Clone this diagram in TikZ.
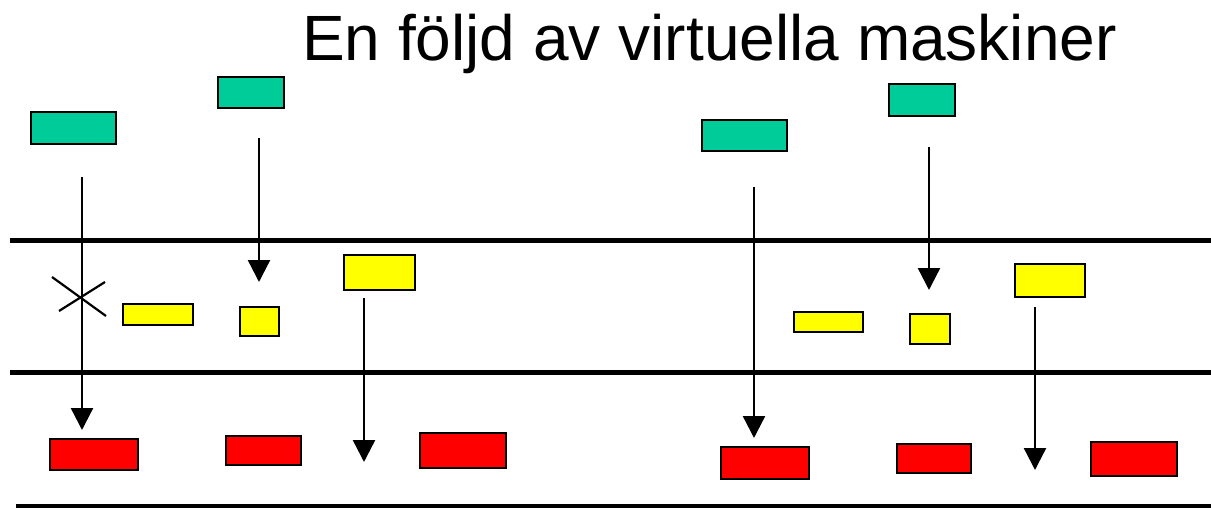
\documentclass[tikz,border=0pt]{standalone}
\usepackage{fontspec}
\setmainfont{Liberation Sans}
\usetikzlibrary{arrows.meta}
\definecolor{vmgreen}{RGB}{0,204,153}
\definecolor{vmyellow}{RGB}{255,255,0}
\definecolor{vmred}{RGB}{255,0,0}
\tikzset{
  box/.style={draw=black, line width=2pt, inner sep=0pt, rectangle},
  gbox/.style={box, fill=vmgreen},
  ybox/.style={box, fill=vmyellow},
  rbox/.style={box, fill=vmred},
  layer/.style={line width=5pt},
  flow/.style={line width=2.4pt, -{Triangle[length=22pt,width=22pt]}},
  cross/.style={line width=2.2pt},
}
\begin{document}
\begin{tikzpicture}[x=1pt,y=-1pt]
\useasboundingbox (0,0) rectangle (1211,508);
% title
\node[anchor=base west, inner sep=0pt, font=\fontsize{64}{70}\selectfont] (title) at (302,61) {En följd av virtuella maskiner};
% layer lines
\coordinate (l1a) at (10,240); \coordinate (l1b) at (1211,240);
\coordinate (l2a) at (10,372); \coordinate (l2b) at (1211,372);
\coordinate (l3a) at (16,506); \coordinate (l3b) at (1211,506);
\draw[layer] (l1a) -- (l1b);
\draw[layer] (l2a) -- (l2b);
\draw[layer] (l3a) -- (l3b);
% green boxes
\node[gbox, minimum width=85pt, minimum height=32pt] (g1) at (73.5,128) {};
\node[gbox, minimum width=66pt, minimum height=31pt] (g2) at (251,92.5) {};
\node[gbox, minimum width=85pt, minimum height=31pt] (g3) at (744.5,135.5) {};
\node[gbox, minimum width=66pt, minimum height=32pt] (g4) at (922,100) {};
% yellow boxes
\node[ybox, minimum width=70pt, minimum height=21pt] (y1) at (158,314.5) {};
\node[ybox, minimum width=39pt, minimum height=29pt] (y2) at (259.5,321.5) {};
\node[ybox, minimum width=71pt, minimum height=35pt] (y3) at (379.5,272.5) {};
\node[ybox, minimum width=69pt, minimum height=20pt] (y4) at (828.5,322) {};
\node[ybox, minimum width=40pt, minimum height=30pt] (y5) at (930,329) {};
\node[ybox, minimum width=70pt, minimum height=33pt] (y6) at (1050,280.5) {};
% red boxes
\node[rbox, minimum width=88pt, minimum height=31pt] (r1) at (94,454.5) {};
\node[rbox, minimum width=75pt, minimum height=29pt] (r2) at (263.5,450.5) {};
\node[rbox, minimum width=86pt, minimum height=35pt] (r3) at (463,450.5) {};
\node[rbox, minimum width=88pt, minimum height=32pt] (r4) at (765,463) {};
\node[rbox, minimum width=74pt, minimum height=29pt] (r5) at (934,458.5) {};
\node[rbox, minimum width=86pt, minimum height=34pt] (r6) at (1134,459) {};
% arrows
\coordinate (a1s) at (82,177);   \coordinate (a1e) at (82,430);
\coordinate (a2s) at (259,138);  \coordinate (a2e) at (259,282);
\coordinate (a3s) at (364,298);  \coordinate (a3e) at (364,462);
\coordinate (a4s) at (754,187);  \coordinate (a4e) at (754,438);
\coordinate (a5s) at (929,147);  \coordinate (a5e) at (929,290);
\coordinate (a6s) at (1035,307); \coordinate (a6e) at (1035,470);
\draw[flow] (a1s) -- (a1e);
\draw[flow] (a2s) -- (a2e);
\draw[flow] (a3s) -- (a3e);
\draw[flow] (a4s) -- (a4e);
\draw[flow] (a5s) -- (a5e);
\draw[flow] (a6s) -- (a6e);
% cross mark
\coordinate (x1a) at (52,277); \coordinate (x1b) at (106,316);
\coordinate (x2a) at (59,311); \coordinate (x2b) at (105,282);
\draw[cross] (x1a) -- (x1b);
\draw[cross] (x2a) -- (x2b);
\end{tikzpicture}
\end{document}
